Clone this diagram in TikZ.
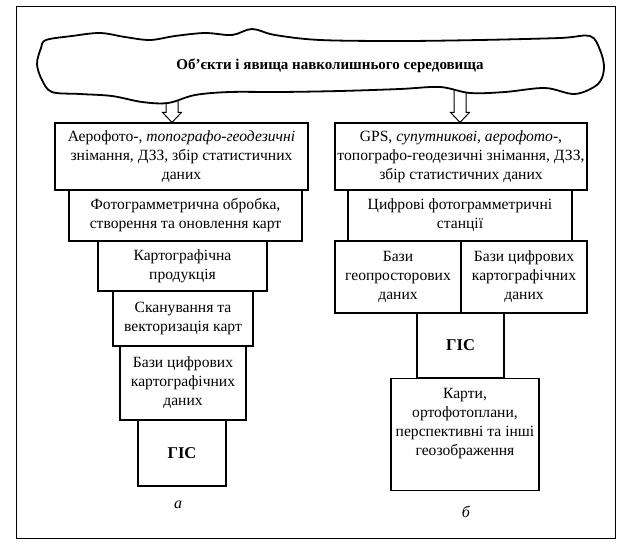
\documentclass[tikz,border=0pt]{standalone}
\usepackage{fontspec}
\setmainfont{Liberation Serif}
\usetikzlibrary{calc}
\tikzset{
  box/.style={draw, line width=1.2pt, fill=white, inner sep=0pt, align=center,
    font=\fontsize{15.6}{19}\selectfont},
  gis/.style={box, font=\fontsize{16.5}{19}\selectfont\bfseries},
  barrow/.style={draw, line width=1pt, fill=white, line join=miter},
  cloud/.style={draw, line width=1.8pt, fill=white},
  frame/.style={draw, line width=0.9pt},
  lbl/.style={font=\fontsize{16}{19}\selectfont\itshape, inner sep=0pt},
}
\begin{document}
\begin{tikzpicture}[x=1pt,y=-1pt]
\useasboundingbox (0,0) rectangle (626,546);
\draw[frame] (16,6) rectangle (615,538);

% boxes (left)
\node[box, minimum width=253, minimum height=67] (b1) at (181.5,156.5)
  {Аерофото-, \textit{топографо-геодезичні}\\знімання, ДЗЗ, збір статистичних\\даних};
\node[box, minimum width=233, minimum height=51] (b2) at (185.5,215.5)
  {Фотограмметрична обробка,\\створення та оновлення карт};
\node[box, minimum width=169, minimum height=50] (b3) at (182.5,266)
  {Картографічна\\продукція};
\node[box, minimum width=140, minimum height=55] (b4) at (183,318.5)
  {Сканування та\\векторизація карт};
\node[box, minimum width=126, minimum height=74] (b5) at (183,383)
  {Бази цифрових\\картографічних\\даних};
\node[gis, minimum width=88, minimum height=66] (b6) at (182,453) {ГІС};
\node[lbl] (la) at (178,505) {а};

% boxes (right)
\node[box, minimum width=252, minimum height=67] (r1) at (461,156.5)
  {GPS, \textit{супутникові, аерофото-},\\топографо-геодезичні знімання, ДЗЗ,\\збір статистичних даних};
\node[box, minimum width=224, minimum height=51] (r2) at (460,215.5)
  {Цифрові фотограмметричні\\станції};
\node[box, minimum width=126, minimum height=72] (r3a) at (398,277)
  {Бази\\геопросторових\\даних};
\node[box, minimum width=126, minimum height=72] (r3b) at (524,277)
  {Бази цифрових\\картографічних\\даних};
\node[gis, minimum width=87, minimum height=65] (r4) at (460.5,345.5) {ГІС};
\node[box, minimum width=148, text height=77pt, text depth=35pt, anchor=north] (r5) at (465,378)
  {Карти,\\ортофотоплани,\\перспективні та інші\\геозображення};
\node[lbl] (lb) at (466,512) {б};

% arrows
\coordinate (cL) at (172,88);
\coordinate (cR) at (460,84);
\draw[barrow] (cL |- b1.north) -- ++(-9.5,-10) -- ++(3.5,0) -- ($(cL)+(-6,0)$)
  -- ($(cL)+(6,0)$) -- ($(cL |- b1.north)+(6,-10)$) -- ++(3.5,0) -- cycle;
\draw[barrow] (cR |- r1.north) -- ++(-9.5,-10) -- ++(3.5,0) -- ($(cR)+(-6,0)$)
  -- ($(cR)+(6,0)$) -- ($(cR |- r1.north)+(6,-10)$) -- ++(3.5,0) -- cycle;

% cloud
\draw[cloud] plot[smooth cycle, tension=0.55] coordinates {
  (46,40) (72,36) (100,33) (125,37) (150,40) (175,36) (205,33) (232,35) (252,29)
  (275,35) (320,40) (400,41) (480,40) (560,38) (590,36)
  (600,50) (604,68) (598,84)
  (575,94) (545,88) (505,92) (470,93) (440,87) (400,89) (340,91) (280,92)
  (230,92) (195,95) (168,103) (142,102) (112,96) (80,94) (52,92)
  (42,80) (37,64) (41,48)};
\node[font=\fontsize{15}{18}\selectfont\bfseries, inner sep=0pt] (obj) at (330,66)
  {Об’єкти і явища навколишнього середовища};
\end{tikzpicture}
\end{document}
